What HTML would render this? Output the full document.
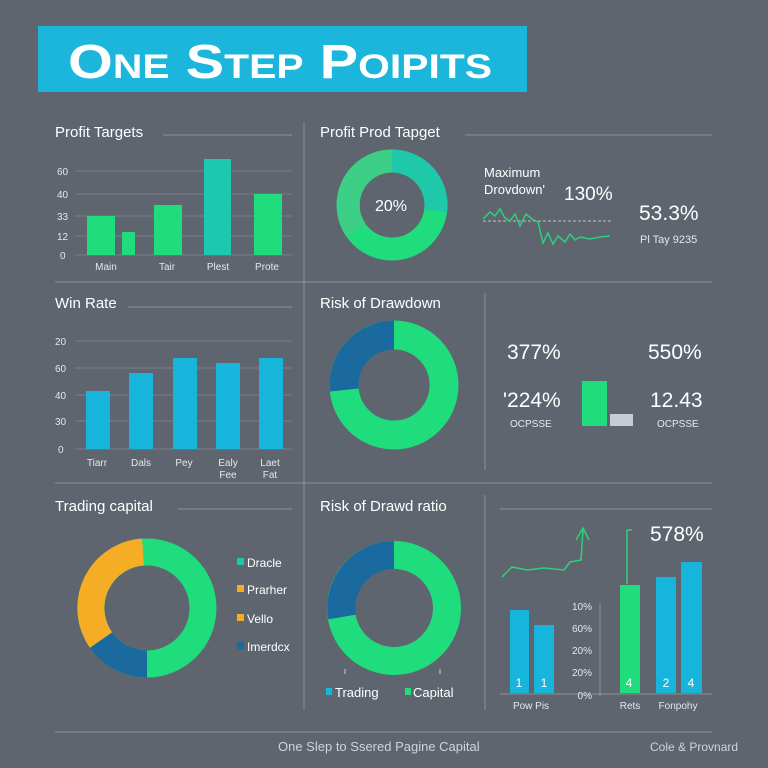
<!DOCTYPE html>
<html><head><meta charset="utf-8"><style>
html,body{margin:0;padding:0;background:#5e656f;}
svg{display:block;font-family:"Liberation Sans",sans-serif;}
</style></head><body>
<svg width="768" height="768" viewBox="0 0 768 768" xmlns="http://www.w3.org/2000/svg">
<rect width="768" height="768" fill="#5e656f"/>
<!-- banner -->
<rect x="38" y="26" width="489" height="66" fill="#1cb6dc"/>
<text x="68" y="78" fill="#fff" font-size="48" font-weight="bold" style="font-variant:small-caps" textLength="424" lengthAdjust="spacingAndGlyphs">One Step Poipits</text>

<g stroke="#8a919a" stroke-width="1" fill="none">
<line x1="163" y1="135" x2="292" y2="135"/>
<line x1="465" y1="135" x2="712" y2="135"/>
<line x1="55" y1="282" x2="712" y2="282"/>
<line x1="304" y1="122" x2="304" y2="710"/>
<line x1="128" y1="307" x2="292" y2="307"/>
<line x1="485" y1="293" x2="485" y2="470"/>
<line x1="55" y1="483" x2="712" y2="483"/>
<line x1="178" y1="509" x2="292" y2="509"/>
<line x1="500" y1="509" x2="712" y2="509"/>
<line x1="485" y1="495" x2="485" y2="710"/>
<line x1="55" y1="732" x2="712" y2="732"/>
</g>

<!-- Profit Targets -->
<text x="55" y="137" fill="#fff" font-size="15">Profit Targets</text>
<g stroke="#78808a" stroke-width="1">
<line x1="75" y1="171" x2="292" y2="171"/><line x1="75" y1="194" x2="292" y2="194"/>
<line x1="75" y1="216" x2="292" y2="216"/><line x1="75" y1="236" x2="292" y2="236"/>
<line x1="75" y1="255" x2="292" y2="255"/>
</g>
<g fill="#e4e8ec" font-size="10">
<text x="57" y="175">60</text><text x="57" y="198">40</text><text x="57" y="220">33</text><text x="57" y="240">12</text><text x="60" y="259">0</text>
</g>
<rect x="87" y="216" width="28" height="39" fill="#1fdc7c"/>
<rect x="122" y="232" width="13" height="23" fill="#1fdc7c"/>
<rect x="154" y="205" width="28" height="50" fill="#1fdc7c"/>
<rect x="204" y="159" width="27" height="96" fill="#1cc9b0"/>
<rect x="254" y="194" width="28" height="61" fill="#1fdc7c"/>
<g fill="#e4e8ec" font-size="10" text-anchor="middle">
<text x="106" y="270">Main</text><text x="167" y="270">Tair</text><text x="218" y="270">Plest</text><text x="267" y="270">Prote</text>
</g>

<!-- Profit Prod Tapget -->
<text x="320" y="137" fill="#fff" font-size="15">Profit Prod Tapget</text>
<circle cx="392" cy="205" r="44" fill="none" stroke="#1fdc7c" stroke-width="23"/>
<path d="M392 161 A44 44 0 0 1 435.6 211" fill="none" stroke="#1dc9a8" stroke-width="23"/>
<path d="M356 230 A44 44 0 0 1 392 161" fill="none" stroke="#3dcf85" stroke-width="23"/>
<text x="391" y="211" fill="#fff" font-size="16" text-anchor="middle">20%</text>
<text x="484" y="177" fill="#fff" font-size="13">Maximum</text>
<text x="484" y="194" fill="#fff" font-size="13">Drovdown'</text>
<text x="564" y="200" fill="#fff" font-size="19">130%</text>
<line x1="483" y1="221" x2="613" y2="221" stroke="#c0c4c8" stroke-dasharray="3,2"/>
<polyline points="483,219 490,212 495,216 500,209 505,218 510,221 515,214 520,226 526,214 532,219 538,222 543,243 548,233 553,244 558,236 565,242 570,234 575,240 580,237 590,239 600,237 610,236" fill="none" stroke="#2fd07a" stroke-width="1.5"/>
<text x="639" y="220" fill="#fff" font-size="21">53.3%</text>
<text x="640" y="243" fill="#e4e8ec" font-size="11">Pl Tay 9235</text>

<!-- Win Rate -->
<text x="55" y="308" fill="#fff" font-size="15">Win Rate</text>
<g stroke="#78808a">
<line x1="75" y1="341" x2="292" y2="341"/><line x1="75" y1="368" x2="292" y2="368"/>
<line x1="75" y1="395" x2="292" y2="395"/><line x1="75" y1="421" x2="292" y2="421"/>
<line x1="75" y1="449" x2="292" y2="449"/>
</g>
<g fill="#e4e8ec" font-size="10">
<text x="55" y="345">20</text><text x="55" y="372">60</text><text x="55" y="399">40</text><text x="55" y="425">30</text><text x="58" y="453">0</text>
</g>
<g fill="#17b4dc">
<rect x="86" y="391" width="24" height="58"/><rect x="129" y="373" width="24" height="76"/>
<rect x="173" y="358" width="24" height="91"/><rect x="216" y="363" width="24" height="86"/>
<rect x="259" y="358" width="24" height="91"/>
</g>
<g fill="#e4e8ec" font-size="10" text-anchor="middle">
<text x="97" y="466">Tiarr</text><text x="141" y="466">Dals</text><text x="184" y="466">Pey</text>
<text x="228" y="466">Ealy</text><text x="228" y="478">Fee</text><text x="270" y="466">Laet</text><text x="270" y="478">Fat</text>
</g>

<!-- Risk of Drawdown -->
<text x="320" y="308" fill="#fff" font-size="15">Risk of Drawdown</text>
<circle cx="394" cy="385" r="50" fill="none" stroke="#1fdc7c" stroke-width="29"/>
<path d="M344.3 390 A50 50 0 0 1 394 335" fill="none" stroke="#1a6aa0" stroke-width="29"/>
<text x="507" y="359" fill="#fff" font-size="21">377%</text>
<text x="648" y="359" fill="#fff" font-size="21">550%</text>
<text x="503" y="407" fill="#fff" font-size="21">'224%</text>
<text x="650" y="407" fill="#fff" font-size="21">12.43</text>
<text x="510" y="427" fill="#e4e8ec" font-size="10">OCPSSE</text>
<text x="657" y="427" fill="#e4e8ec" font-size="10">OCPSSE</text>
<rect x="582" y="381" width="25" height="45" fill="#1fdc7c"/>
<rect x="610" y="414" width="23" height="12" fill="#c8ccd2"/>

<!-- Trading capital -->
<text x="55" y="511" fill="#fff" font-size="15">Trading capital</text>
<circle cx="147" cy="608" r="56" fill="none" stroke="#1fdc7c" stroke-width="27"/>
<path d="M147 664 A56 56 0 0 1 101 640" fill="none" stroke="#1a6aa0" stroke-width="27"/>
<path d="M101 640 A56 56 0 0 1 143 552" fill="none" stroke="#f5ad25" stroke-width="27"/>
<g font-size="12" fill="#fff">
<rect x="237" y="558" width="7" height="7" fill="#1dc9a8"/><text x="247" y="567">Dracle</text>
<rect x="237" y="585" width="7" height="7" fill="#f5ad25"/><text x="247" y="594">Prarher</text>
<rect x="237" y="614" width="7" height="7" fill="#f5ad25"/><text x="247" y="623">Vello</text>
<rect x="237" y="642" width="7" height="7" fill="#1a6aa0"/><text x="247" y="651">Imerdcx</text>
</g>

<!-- Risk of Drawd ratio -->
<text x="320" y="511" fill="#fff" font-size="15">Risk of Drawd ratio</text>
<circle cx="394" cy="608" r="53" fill="none" stroke="#1fdc7c" stroke-width="28"/>
<path d="M342 617 A53 53 0 0 1 394 555" fill="none" stroke="#1a6aa0" stroke-width="28"/>
<line x1="345" y1="669" x2="345" y2="674" stroke="#ccc"/><line x1="440" y1="669" x2="440" y2="674" stroke="#ccc"/>
<rect x="326" y="688" width="6" height="7" fill="#17b4dc"/><text x="335" y="697" fill="#fff" font-size="13">Trading</text>
<rect x="405" y="688" width="6" height="7" fill="#1fdc7c"/><text x="413" y="697" fill="#fff" font-size="13">Capital</text>

<!-- right chart -->
<polyline points="502,577 512,567 527,570 544,568 564,570 570,562 581,560 583,530" fill="none" stroke="#2fd07a" stroke-width="1.5"/>
<polyline points="576,540 583,528 589,540" fill="none" stroke="#2fd07a" stroke-width="1.5"/>
<polyline points="627,584 627,530 632,530" fill="none" stroke="#2fd07a" stroke-width="1.5"/>
<text x="650" y="541" fill="#fff" font-size="21">578%</text>
<line x1="600" y1="603" x2="600" y2="697" stroke="#8a919a"/>
<line x1="500" y1="694" x2="712" y2="694" stroke="#8a919a"/>
<g fill="#e4e8ec" font-size="10" text-anchor="end">
<text x="592" y="610">10%</text><text x="592" y="632">60%</text><text x="592" y="654">20%</text><text x="592" y="676">20%</text><text x="592" y="699">0%</text>
</g>
<rect x="510" y="610" width="19" height="83" fill="#17b4dc"/>
<rect x="534" y="625" width="20" height="68" fill="#17b4dc"/>
<rect x="620" y="585" width="20" height="108" fill="#1fdc7c"/>
<rect x="656" y="577" width="20" height="116" fill="#17b4dc"/>
<rect x="681" y="562" width="21" height="131" fill="#17b4dc"/>
<g fill="#fff" font-size="12" text-anchor="middle">
<text x="519" y="687">1</text><text x="544" y="687">1</text><text x="629" y="687">4</text><text x="666" y="687">2</text><text x="691" y="687">4</text>
</g>
<g fill="#e4e8ec" font-size="10" text-anchor="middle">
<text x="531" y="709">Pow Pis</text><text x="630" y="709">Rets</text><text x="678" y="709">Fonpohy</text>
</g>

<text x="278" y="751" fill="#d0d4d8" font-size="13">One Slep to Ssered Pagine Capital</text>
<text x="650" y="751" fill="#d0d4d8" font-size="12">Cole &amp; Provnard</text>
</svg>
</body></html>
